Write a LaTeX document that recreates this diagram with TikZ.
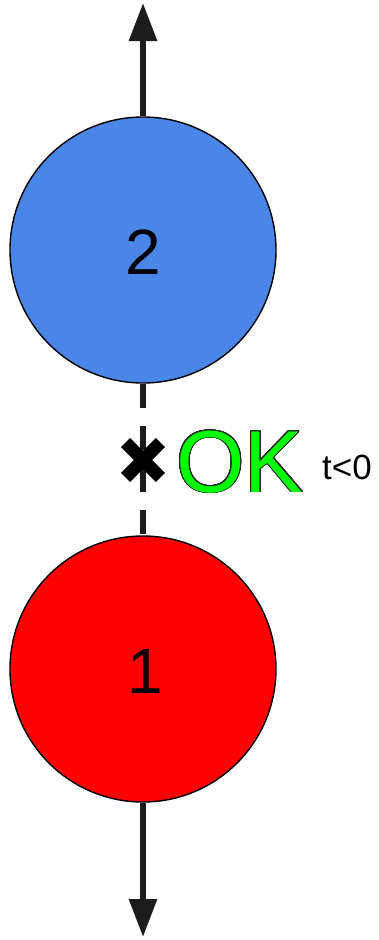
\documentclass[tikz,border=0pt]{standalone}
\usepackage{fontspec}
\setmainfont{Liberation Sans}
\usepackage{contour}
\usetikzlibrary{arrows.meta}
\definecolor{cblue}{HTML}{4A86E8}
\definecolor{cred}{HTML}{FF0000}
\definecolor{cgreen}{HTML}{00FF00}
\definecolor{cline}{HTML}{1C1C1C}
\contourlength{0.9pt}
\contournumber{32}
\begin{document}
\begin{tikzpicture}[x=1pt,y=-1pt,
  ball/.style={circle, draw=black, line width=1.4pt, minimum size=266pt, inner sep=0pt},
  rod/.style={draw=cline, line width=6pt},
  arrowrod/.style={rod, -{Triangle[length=38pt,width=27pt]}},
  dashrod/.style={rod, dash pattern=on 24pt off 18pt},
  label/.style={inner sep=0pt, anchor=base}]
\useasboundingbox (0,0) rectangle (379,940);
\coordinate (topend) at (143,3);
\coordinate (botend) at (143,937);
\node[ball, fill=cblue] (blue) at (143,250) {};
\node[ball, fill=cred] (red) at (143,669) {};
\draw[dashrod] (blue.south) -- (red.north);
\draw[arrowrod] (blue.north) -- (topend);
\draw[arrowrod] (red.south) -- (botend);
\node[label, font=\fontsize{64}{64}\selectfont] (two) at (143,274) {2};
\node[label, font=\fontsize{64}{64}\selectfont] (one) at (145,693) {1};
\coordinate (xmark) at (143,460);
\draw[line width=13pt, black] ([shift={(-17.4,-17.4)}]xmark) -- ([shift={(17.4,17.4)}]xmark);
\draw[line width=13pt, black] ([shift={(-17.4,17.4)}]xmark) -- ([shift={(17.4,-17.4)}]xmark);
\node[label, anchor=base west, font=\fontsize{88}{88}\selectfont] (ok) at (176,492) {\contour{black!85}{\textcolor{cgreen}{OK}}};
\node[label, anchor=base west, font=\fontsize{35}{35}\selectfont] (t) at (322,479) {t<0};
\end{tikzpicture}
\end{document}
